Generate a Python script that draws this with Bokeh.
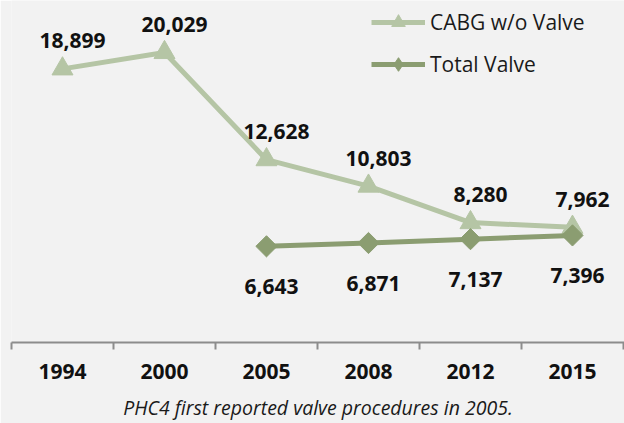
import math
from bokeh.plotting import figure
from bokeh.models import ColumnDataSource, FixedTicker, Range1d, Legend, LegendItem
from bokeh.core.properties import value
from bokeh.embed import file_html
from bokeh.resources import INLINE

# ---- data ----
years = ["1994", "2000", "2005", "2008", "2012", "2015"]
cabg = [18899, 20029, 12628, 10803, 8280, 7962]
valve = [None, None, 6643, 6871, 7137, 7396]

CABG_NAME = "CABG w/o Valve"
VALVE_NAME = "Total Valve"
CAPTION = "PHC4 first reported valve procedures in 2005."

# ---- styles ----
LIGHT = "#b5c5a5"
DARK = "#8b9d71"
AXIS = "#8c8c8c"
BG = "#f2f2f2"
FONT = "Open Sans"

idx = list(range(len(years)))
cabg_src = ColumnDataSource(dict(x=idx, y=cabg, label=[f"{v:,}" for v in cabg]))
vi = [i for i, v in enumerate(valve) if v is not None]
valve_src = ColumnDataSource(dict(x=vi, y=[valve[i] for i in vi],
                                  label=[f"{valve[i]:,}" for i in vi]))

p = figure(width=624, height=423, output_backend="svg", toolbar_location=None,
           x_range=Range1d(-0.5, 5.51), y_range=Range1d(0, 23620),
           y_axis_location=None,
           min_border_left=11, min_border_right=0, min_border_top=0, min_border_bottom=80)
p.background_fill_color = BG
p.border_fill_color = BG
p.outline_line_color = None
p.grid.visible = False

xa = p.xaxis[0]
xa.ticker = FixedTicker(ticks=idx, minor_ticks=[i - 0.5 for i in range(len(years) + 1)])
xa.major_label_overrides = {i: y for i, y in enumerate(years)}
xa.major_tick_line_color = None
xa.major_tick_in = 0
xa.major_tick_out = 0
xa.minor_tick_line_color = AXIS
xa.minor_tick_line_width = 2
xa.minor_tick_in = 0
xa.minor_tick_out = 7
xa.axis_line_color = AXIS
xa.axis_line_width = 2
xa.major_label_text_font = FONT
xa.major_label_text_font_style = "bold"
xa.major_label_text_font_size = "21px"
xa.major_label_text_color = "#111111"
xa.major_label_standoff = 14
xa.axis_label = CAPTION
xa.axis_label_text_font = FONT
xa.axis_label_text_font_style = "italic"
xa.axis_label_text_font_size = "19.5px"
xa.axis_label_text_color = "#1a1a1a"
xa.axis_label_standoff = 12

l1 = p.line("x", "y", source=cabg_src, line_color=LIGHT, line_width=5)
s1 = p.scatter("x", "y", source=cabg_src, marker="triangle", size=21,
               fill_color=LIGHT, line_color=LIGHT)
l2 = p.line("x", "y", source=valve_src, line_color=DARK, line_width=5)
# diamond used for the legend glyph; hidden under the larger rotated square below
s2_leg = p.scatter("x", "y", source=valve_src, marker="diamond", size=15,
                   fill_color=DARK, line_color=DARK)
s2 = p.scatter("x", "y", source=valve_src, marker="square", angle=math.pi / 4, size=15,
               fill_color=DARK, line_color=DARK)

p.text("x", "y", "label", source=cabg_src, text_font=value(FONT), text_font_style="bold",
       text_font_size="21px", text_color="#111111", text_align="center",
       text_baseline="middle", x_offset=10, y_offset=-28)
p.text("x", "y", "label", source=valve_src, text_font=value(FONT), text_font_style="bold",
       text_font_size="21px", text_color="#111111", text_align="center",
       text_baseline="middle", x_offset=5, y_offset=40)

legend = Legend(items=[LegendItem(label=CABG_NAME, renderers=[l1, s1]),
                       LegendItem(label=VALVE_NAME, renderers=[l2, s2_leg])],
                location=(360, 261), glyph_width=54, glyph_height=34, label_height=28,
                spacing=8, padding=0, margin=0, border_line_color=None,
                background_fill_alpha=0, label_standoff=5,
                label_text_font=FONT, label_text_font_size="21px",
                label_text_color="#1a1a1a")
p.add_layout(legend)

open("out.html", "w").write(file_html(p, INLINE))
